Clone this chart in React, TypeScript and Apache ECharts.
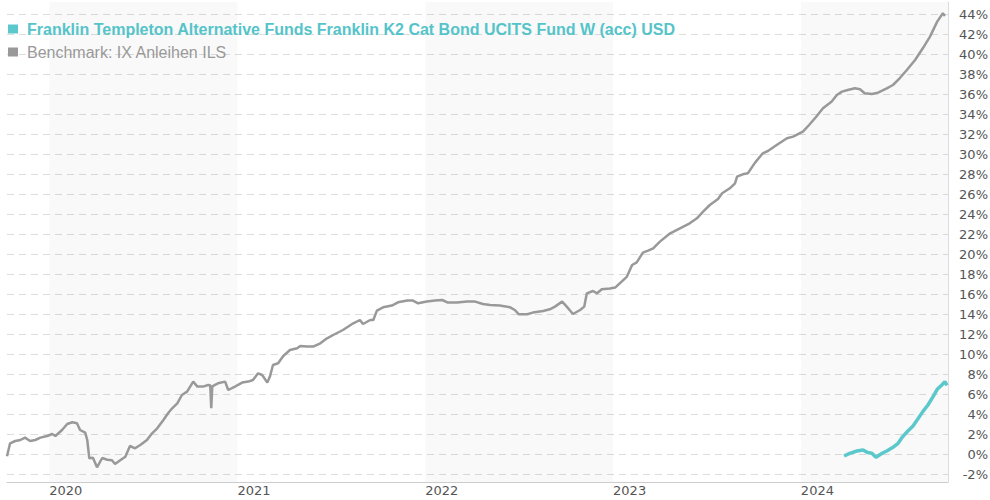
import React, { useEffect, useRef } from "react";
import * as echarts from "echarts";

const fundName = "Franklin Templeton Alternative Funds Franklin K2 Cat Bond UCITS Fund W (acc) USD";
const benchName = "Benchmark: IX Anleihen ILS";

const benchDates = [
  "2019-10-11", "2019-10-17", "2019-10-27", "2019-11-06", "2019-11-15", "2019-11-25", "2019-12-05", "2019-12-15", "2019-12-28",
  "2020-01-07", "2020-01-13", "2020-01-26", "2020-02-05", "2020-02-15", "2020-02-24", "2020-03-01", "2020-03-11", "2020-03-15",
  "2020-03-19", "2020-03-26", "2020-04-03", "2020-04-13", "2020-04-23", "2020-05-02", "2020-05-08", "2020-05-18", "2020-05-28",
  "2020-06-06", "2020-06-16", "2020-06-26", "2020-07-09", "2020-07-19", "2020-07-29", "2020-08-10", "2020-08-19", "2020-08-27",
  "2020-09-06", "2020-09-15", "2020-09-25", "2020-10-01", "2020-10-07", "2020-10-15", "2020-10-26", "2020-11-05", "2020-11-09",
  "2020-11-11", "2020-11-13", "2020-11-24", "2020-12-08", "2020-12-14", "2020-12-27", "2021-01-10", "2021-01-22", "2021-01-31",
  "2021-02-10", "2021-02-18", "2021-02-28", "2021-03-05", "2021-03-11", "2021-03-21", "2021-03-31", "2021-04-13", "2021-04-27",
  "2021-05-03", "2021-05-16", "2021-05-28", "2021-06-11", "2021-06-24", "2021-07-06", "2021-07-25", "2021-08-14", "2021-08-27",
  "2021-09-02", "2021-09-16", "2021-09-22", "2021-09-29", "2021-10-11", "2021-10-28", "2021-11-09", "2021-11-27", "2021-12-08",
  "2021-12-18", "2022-01-04", "2022-01-20", "2022-02-03", "2022-02-14", "2022-03-04", "2022-03-23", "2022-04-08", "2022-04-23",
  "2022-05-07", "2022-05-26", "2022-06-15", "2022-06-24", "2022-07-02", "2022-07-18", "2022-07-29", "2022-08-18", "2022-08-31",
  "2022-09-10", "2022-09-24", "2022-10-03", "2022-10-15", "2022-10-29", "2022-11-06", "2022-11-11", "2022-11-23", "2022-12-01",
  "2022-12-10", "2022-12-26", "2023-01-05", "2023-01-14", "2023-01-28", "2023-02-07", "2023-02-16", "2023-02-28", "2023-03-10",
  "2023-03-20", "2023-04-02", "2023-04-22", "2023-05-11", "2023-05-30", "2023-06-13", "2023-06-25", "2023-07-08", "2023-07-24",
  "2023-08-01", "2023-08-16", "2023-08-26", "2023-08-30", "2023-09-10", "2023-09-20", "2023-10-04", "2023-10-19", "2023-10-29",
  "2023-11-15", "2023-12-05", "2023-12-17", "2024-01-05", "2024-01-17", "2024-01-30", "2024-02-13", "2024-03-01", "2024-03-11",
  "2024-03-21", "2024-04-01", "2024-04-15", "2024-04-25", "2024-05-04", "2024-05-18", "2024-05-30", "2024-06-16", "2024-06-28",
  "2024-07-11", "2024-07-25", "2024-08-10", "2024-08-25", "2024-09-08", "2024-09-22", "2024-10-03", "2024-10-07",
];

const benchValues = [
  -0.2, 1.1, 1.33, 1.43, 1.67, 1.33, 1.43, 1.67, 1.83,
  2.03, 1.83, 2.43, 3.03, 3.2, 3.1, 2.43, 2.17, 1.43,
  -0.4, -0.35, -1.3, -0.37, -0.55, -0.6, -0.97, -0.6, -0.24,
  0.83, 0.6, 0.93, 1.43, 2.1, 2.6, 3.43, 4.1, 4.6,
  5.1, 5.93, 6.27, 6.77, 7.27, 6.77, 6.77, 6.93, 6.9,
  4.6, 6.8, 7.1, 7.27, 6.43, 6.77, 7.17, 7.27, 7.43,
  8.1, 7.93, 7.17, 7.77, 8.93, 9.1, 9.83, 10.43, 10.6,
  10.83, 10.77, 10.77, 11.1, 11.6, 11.93, 12.43, 13.1, 13.43,
  13.03, 13.43, 13.43, 14.37, 14.7, 14.87, 15.2, 15.37, 15.37,
  15.1, 15.27, 15.37, 15.43, 15.17, 15.17, 15.27, 15.27, 15.03,
  14.93, 14.87, 14.7, 14.43, 14.0, 14.0, 14.17, 14.33, 14.5,
  14.77, 15.27, 14.77, 14.03, 14.43, 14.77, 16.1, 16.33, 16.1,
  16.5, 16.57, 16.67, 17.1, 17.77, 18.93, 19.2, 20.17, 20.37,
  20.6, 21.27, 22.1, 22.6, 23.1, 23.6, 24.27, 24.93, 25.53,
  26.1, 26.6, 27.1, 27.77, 28.0, 28.1, 29.17, 30.1, 30.33,
  30.93, 31.6, 31.77, 32.27, 32.93, 33.7, 34.6, 35.27, 35.93,
  36.27, 36.43, 36.6, 36.5, 36.1, 36.03, 36.17, 36.6, 36.93,
  37.6, 38.43, 39.43, 40.6, 41.77, 43.27, 44.1, 43.83,
];

const fundDates = [
  "2024-03-25", "2024-04-05", "2024-04-19", "2024-05-01", "2024-05-10", "2024-05-18", "2024-05-26", "2024-06-07",
  "2024-06-16", "2024-06-28", "2024-07-08", "2024-07-17", "2024-07-27", "2024-08-06", "2024-08-15", "2024-08-25",
  "2024-09-04", "2024-09-14", "2024-09-22", "2024-10-01", "2024-10-07", "2024-10-11",
];

const fundValues = [
  -0.17, 0.1, 0.33, 0.43, 0.17, 0.1, -0.3, 0.1,
  0.33, 0.7, 1.1, 1.77, 2.33, 2.83, 3.5, 4.27,
  4.93, 5.77, 6.5, 6.93, 7.27, 6.9,
];

const yearTicks = ["2020-01-01", "2021-01-01", "2022-01-01", "2023-01-01", "2024-01-01"];
const shadedYears = [
  ["2020-01-01", "2021-01-01"],
  ["2022-01-01", "2023-01-01"],
  ["2024-01-01", "2024-10-13"],
];
const yTicks = [-2, 0, 2, 4, 6, 8, 10, 12, 14, 16, 18, 20, 22, 24, 26, 28, 30, 32, 34, 36, 38, 40, 42, 44];
const xMin = "2019-10-11";
const xMax = "2024-10-13";
const yMin = -2.77;
const yMax = 45.23;

const ts = (s: string) => Date.UTC(+s.slice(0, 4), +s.slice(5, 7) - 1, +s.slice(8, 10));

export default function App() {
  const ref = useRef<HTMLDivElement>(null);
  useEffect(() => {
    if (!ref.current) return;
    const chart = echarts.init(ref.current, null, { renderer: "svg" });
    const fundColor = "#5bc8cc";
    const benchColor = "#999999";
    chart.setOption({
      animation: false,
      backgroundColor: "#ffffff",
      grid: { left: 7, right: 42, top: 2, bottom: 18, containLabel: false, outerBoundsMode: "none" },
      legend: {
        orient: "vertical",
        left: 8,
        top: 21,
        padding: 0,
        itemWidth: 10,
        itemHeight: 9,
        itemGap: 7,
        icon: "rect",
        selectedMode: false,
        textStyle: { fontFamily: "Liberation Sans, Arial", fontSize: 16, padding: [0, 0, 0, 4] },
        data: [
          { name: fundName, textStyle: { color: "#55c4ca", fontWeight: "bold" } },
          { name: benchName, textStyle: { color: "#999999", fontWeight: "normal" } },
        ],
      },
      xAxis: {
        type: "value",
        min: ts(xMin),
        max: ts(xMax),
        axisLine: { show: true, onZero: false, lineStyle: { color: "#cccccc", width: 1 } },
        axisTick: { show: false, customValues: yearTicks.map(ts) },
        splitLine: { show: false },
        axisLabel: {
          customValues: yearTicks.map(ts),
          formatter: (v: number) => String(new Date(v).getUTCFullYear()),
          align: "left",
          margin: 2,
          color: "#555555",
          fontFamily: "DejaVu Sans",
          fontSize: 13,
        },
      },
      yAxis: {
        type: "value",
        position: "right",
        min: yMin,
        max: yMax,
        axisLine: { show: true, lineStyle: { color: "#dddddd", width: 1 } },
        axisTick: { show: false, customValues: yTicks },
        axisLabel: {
          customValues: yTicks,
          formatter: (v: number) => v + "%",
          align: "right",
          margin: 40,
          color: "#555555",
          fontFamily: "DejaVu Sans",
          fontSize: 13,
          padding: [5, 0, 0, 0],
        },
        splitLine: { show: true, lineStyle: { color: "#dddddd", width: 1, type: [7, 5] } },
      },
      series: [
        {
          name: fundName,
          type: "line",
          data: fundDates.map((d, i) => [ts(d), fundValues[i]]),
          showSymbol: false,
          symbol: "none",
          clip: false,
          lineStyle: { color: fundColor, width: 3.5 },
          itemStyle: { color: fundColor },
          z: 4,
        },
        {
          name: benchName,
          type: "line",
          data: benchDates.map((d, i) => [ts(d), benchValues[i]]),
          showSymbol: false,
          symbol: "none",
          clip: false,
          lineStyle: { color: benchColor, width: 2.5 },
          itemStyle: { color: benchColor },
          z: 3,
          markArea: {
            silent: true,
            itemStyle: { color: "rgba(0,0,0,0.025)" },
            data: shadedYears.map(([a, b]) => [{ xAxis: ts(a) }, { xAxis: ts(b) }]),
          },
        },
      ],
    });
    return () => chart.dispose();
  }, []);
  return <div ref={ref} style={{ position: "fixed", left: 0, top: 0, width: 990, height: 500 }} />;
}
